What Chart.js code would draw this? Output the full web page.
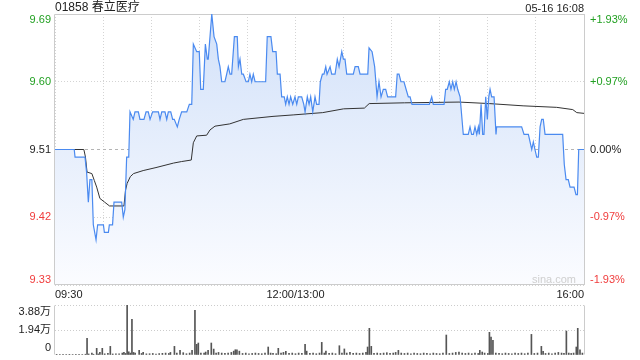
<!DOCTYPE html>
<html lang="zh">

<head>
    <meta charset="UTF-8">
    <meta name="viewport" content="width=device-width, initial-scale=1.0">
    <script src="https://cdn.jsdelivr.net/npm/chart.js"></script>
    <title>01858 春立医疗</title>
    <style>
        body {
            margin: 0;
            background: #fff;
            font-family: 'Liberation Sans', Arial, 'Noto Sans CJK SC', sans-serif;
        }

        .wrap {
            position: relative;
            width: 640px;
            height: 360px;
            overflow: hidden;
        }

        .title {
            position: absolute;
            left: 55px;
            top: 0;
            font-size: 12px;
            line-height: 15px;
            color: #222;
        }

        .date {
            position: absolute;
            right: 56px;
            top: 1px;
            font-size: 11px;
            line-height: 14px;
            color: #222;
        }

        .mark {
            position: absolute;
            right: 64px;
            top: 273px;
            font-size: 11px;
            line-height: 13px;
            color: #cfcfcf;
        }

        #priceBox {
            position: absolute;
            left: 0;
            top: 0;
            width: 640px;
            height: 300px;
        }

        #volBox {
            position: absolute;
            left: 0;
            top: 300px;
            width: 640px;
            height: 60px;
        }
    </style>
</head>

<body>
    <div class="wrap">
        <div id="priceBox"><canvas id="priceChart"></canvas></div>
        <div id="volBox"><canvas id="volChart"></canvas></div>
        <div class="title">01858 春立医疗</div>
        <div class="date">05-16 16:08</div>
        <div class="mark">sina.com</div>
    </div>
</body>

</html>
<script>
    // time axis = trading minutes since 09:30 (lunch break removed, 330 in total)
    const gridMinutes = [0, 30, 60, 90, 120, 150, 180, 210, 240, 270, 300, 330];
    const timeTicks = [0, 150, 330];
    const timeLabels = ['09:30', '12:00/13:00', '16:00'];

    const prevClose = 9.51;
    const priceTicks = [9.33, 9.42, 9.51, 9.60, 9.69];
    const priceLabels = ['9.33', '9.42', '9.51', '9.60', '9.69'];
    const pctLabels = ['-1.93%', '-0.97%', '0.00%', '+0.97%', '+1.93%'];

    const volTicks = [0, 19400, 38800];
    const volLabels = ['0', '1.94万', '3.88万'];

    // price line
    const priceTimes = [
        0, 12, 12.5, 18.7, 19.7, 20.8, 21.8, 23, 23.9, 25.6,
        26.6, 30.2, 30.8, 33.3, 33.9, 35.9, 36.8, 41.6, 42.6, 43.6,
        44.7, 46, 46.8, 48.8, 49.9, 52, 53, 55.5, 56.8, 58.2,
        59.3, 60.9, 64.5, 65.5, 66.6, 68.6, 69.7, 70.7, 72.2, 73.4,
        74.4, 76.3, 77.5, 79, 82.2, 83.8, 85.3, 86.3, 88.4, 90,
        90.9, 92.5, 93.8, 95, 95.6, 97.8, 99.2, 100.9, 101.9, 102.9,
        104, 106, 107.1, 108.1, 109.2, 110.2, 111.9, 113.7, 114.4, 115.4,
        116.5, 117.5, 119.2, 120.6, 121.6, 122.7, 123.7, 124.8, 131.4, 132.4,
        134.7, 135.8, 137.9, 138.7, 140.4, 141.4, 143, 143.9, 144.9, 146,
        147, 148.3, 149.7, 150.8, 151.8, 153.9, 155.2, 156, 157.4, 158.5,
        159.5, 160.8, 162.2, 163.2, 164.7, 165.5, 166.8, 167.8, 168.9, 169.7,
        171.6, 172.6, 174.7, 176.1, 177.2, 178.9, 179.9, 180.9, 182, 186.1,
        187.2, 189.2, 190.3, 195.1, 195.9, 197.8, 199.4, 200.9, 202.1, 203.4,
        204.8, 206.3, 207.5, 212.5, 213.5, 214.6, 215.8, 217.7, 219, 220.4,
        221.5, 222.7, 233.5, 235, 236, 242.7, 243.7, 244.7, 246, 247,
        248.1, 249.1, 250.2, 251.2, 252.7, 254.7, 257.8, 258.9, 259.9, 261,
        262, 263.1, 264.1, 264.7, 265.8, 266.8, 267.6, 268.7, 269.7, 270.6,
        271.4, 272.4, 273.9, 275.1, 275.5, 291.1, 292.6, 295.3, 297.4, 298.4,
        299.4, 300.5, 301.5, 302.6, 303.6, 304.6, 305.7, 316.7, 317.7, 318.8,
        320.2, 321.3, 323.8, 325, 325.9, 326.7, 330
    ];
    const priceValues = [
        9.51, 9.51, 9.50, 9.50, 9.48, 9.44, 9.47, 9.47, 9.41, 9.39,
        9.41, 9.41, 9.40, 9.40, 9.41, 9.41, 9.44, 9.44, 9.42, 9.43,
        9.50, 9.50, 9.56, 9.55, 9.56, 9.56, 9.55, 9.55, 9.56, 9.56,
        9.55, 9.56, 9.56, 9.55, 9.56, 9.56, 9.55, 9.56, 9.56, 9.55,
        9.55, 9.54, 9.55, 9.56, 9.56, 9.57, 9.57, 9.65, 9.64, 9.64,
        9.59, 9.59, 9.65, 9.63, 9.63, 9.69, 9.66, 9.65, 9.63, 9.62,
        9.60, 9.60, 9.61, 9.62, 9.61, 9.61, 9.66, 9.66, 9.62, 9.63,
        9.61, 9.61, 9.60, 9.60, 9.61, 9.60, 9.61, 9.60, 9.60, 9.66,
        9.66, 9.64, 9.64, 9.61, 9.61, 9.58, 9.58, 9.57, 9.58, 9.57,
        9.58, 9.57, 9.58, 9.57, 9.58, 9.58, 9.57, 9.56, 9.58, 9.57,
        9.58, 9.56, 9.58, 9.57, 9.57, 9.60, 9.61, 9.61, 9.62, 9.61,
        9.62, 9.61, 9.61, 9.63, 9.62, 9.64, 9.63, 9.63, 9.61, 9.61,
        9.62, 9.62, 9.61, 9.61, 9.645, 9.64, 9.62, 9.58, 9.60, 9.58,
        9.59, 9.59, 9.58, 9.58, 9.61, 9.61, 9.60, 9.60, 9.59, 9.58,
        9.58, 9.57, 9.57, 9.58, 9.57, 9.57, 9.59, 9.59, 9.60, 9.59,
        9.60, 9.59, 9.60, 9.59, 9.58, 9.53, 9.53, 9.54, 9.53, 9.53,
        9.54, 9.53, 9.54, 9.53, 9.57, 9.53, 9.53, 9.58, 9.55, 9.58,
        9.59, 9.58, 9.58, 9.53, 9.54, 9.54, 9.53, 9.53, 9.51, 9.52,
        9.51, 9.50, 9.50, 9.54, 9.55, 9.55, 9.53, 9.53, 9.49, 9.47,
        9.47, 9.46, 9.46, 9.45, 9.45, 9.51, 9.51
    ];

    // average price line
    const avgTimes = [
        0, 18, 19, 20, 23, 24.5, 26, 28, 31, 34,
        43, 44, 45, 47, 49, 55, 63, 74, 79, 85,
        86.3, 88.4, 94.6, 96.7, 99.8, 109, 117.5, 136, 149, 167,
        180, 193, 196, 218, 252, 271, 292, 313, 323, 325.5,
        330
    ];
    const avgValues = [
        9.51, 9.51, 9.50, 9.48, 9.478, 9.469, 9.46, 9.445, 9.44, 9.435,
        9.435, 9.456, 9.465, 9.474, 9.478, 9.482, 9.486, 9.492, 9.494, 9.496,
        9.519, 9.528, 9.529, 9.536, 9.541, 9.544, 9.55, 9.554, 9.556, 9.559,
        9.564, 9.565, 9.571, 9.572, 9.573, 9.571, 9.568, 9.566, 9.563, 9.559,
        9.558
    ];

    // volume bars
    const volTimes = [
        1, 3, 5, 7, 9, 11, 13, 15, 17, 19,
        20, 21, 23, 24, 26, 27, 28, 29.5, 31, 33,
        34.5, 36, 38, 40, 42, 43, 44, 45, 46, 47,
        48, 49, 50, 52.5, 54, 55, 57, 59, 61, 63,
        65, 67, 69, 71, 72, 74.5, 76, 78, 80, 82,
        84, 85.5, 87.3, 88.4, 89.4, 91, 93, 94, 95.5, 97.5,
        99, 100.5, 102, 104, 106, 108, 110, 111.5, 112.5, 113.5,
        115, 117, 119, 121, 123, 125, 127, 129, 131, 133,
        134.5, 136, 138, 139.3, 141, 142.5, 144, 146, 148, 150,
        152, 154, 156, 157, 159, 161, 163, 165, 166.4, 168,
        169, 171, 173, 175, 177.4, 179, 180.5, 182, 184, 186,
        188, 190, 192, 194, 195, 196.1, 197.3, 199, 201, 203,
        205, 207, 209, 211, 212.5, 214.2, 216, 218, 220, 222,
        224, 226, 228, 230, 232, 234, 236, 238, 240, 242,
        244.1, 246, 248, 250, 252, 254, 256, 258, 260, 262,
        264, 265, 266.5, 268, 270, 271, 272, 273.2, 275, 277,
        279, 281, 283, 285, 287, 289, 291, 293, 295, 297.2,
        299, 301, 303.4, 304.5, 306, 308, 310, 312, 314, 316,
        317.5, 319, 320.5, 322, 323.5, 325.2, 326.1, 327.5, 329
    ];
    const volValues = [
        500, 400, 500, 400, 500, 400, 600, 500, 400, 600,
        12900, 800, 1500, 600, 5200, 800, 2000, 5200, 900, 1200,
        6700, 800, 1000, 900, 1500, 2000, 1200, 38500, 2500, 1500,
        27700, 2000, 1500, 3600, 1200, 2000, 900, 1000, 1200, 800,
        1100, 1300, 1500, 1200, 2000, 6700, 1500, 3600, 1800, 1000,
        1500, 3600, 34700, 8300, 9300, 1500, 1500, 2300, 3600, 9300,
        4600, 1500, 2000, 1500, 1200, 1500, 2000, 3000, 4100, 4100,
        3000, 1200, 1500, 1000, 1200, 1500, 1200, 1000, 1500, 6200,
        1500, 1200, 1000, 5200, 1500, 2000, 2800, 1200, 1500, 1000,
        1500, 1200, 8300, 3000, 1200, 1500, 1000, 1500, 9800, 1500,
        3000, 1200, 1500, 1000, 7200, 1500, 4700, 1500, 2000, 1200,
        1500, 1200, 1500, 2000, 6200, 20700, 6700, 1200, 1500, 1200,
        1500, 1800, 1200, 1500, 2000, 3600, 1500, 1200, 1500, 1000,
        1500, 1200, 1000, 1500, 1200, 1000, 1500, 1200, 1000, 1500,
        15500, 1200, 1500, 2000, 2300, 1500, 1200, 1500, 1000, 1500,
        1200, 3600, 2300, 1500, 1200, 17600, 14000, 11400, 1500, 1200,
        1000, 1500, 1200, 1000, 1500, 1200, 1500, 1000, 1500, 16000,
        1200, 1500, 6700, 2800, 1200, 1500, 1000, 1500, 2000, 1500,
        1200, 18600, 1500, 1200, 1500, 6200, 20700, 4100, 1500
    ];

    Chart.defaults.font.family = "'Liberation Sans', Arial, 'Noto Sans CJK SC', sans-serif";
    Chart.defaults.font.size = 11;
    Chart.defaults.color = '#222';

    const corSobe = '#22a022';
    const corDesce = '#f03c3c';
    const corNeutra = '#222';

    function tickColor(value) {
        if (value > prevClose + 0.001) return corSobe;
        if (value < prevClose - 0.001) return corDesce;
        return corNeutra;
    }

    // first label pushed down, last pushed up, so both stay inside the box
    function edgeLabel(list, i) {
        if (i === 0) return [list[i], ''];
        if (i === list.length - 1) return ['', list[i]];
        return list[i];
    }

    // fixed axis width, and no extra room reserved for the two-line labels
    function fixWidth(w) {
        return function (axis) {
            axis.width = w;
            axis.paddingTop = 0;
            axis.paddingBottom = 0;
        };
    }

    // solid grey frame around the plot area
    const framePlugin = {
        id: 'frame',
        beforeDatasetsDraw(chart, args, opts) {
            const a = chart.chartArea;
            const ctx = chart.ctx;
            const l = Math.round(a.left) - 0.5;
            const r = Math.round(a.right) + 0.5;
            const t = Math.round(a.top) + 0.5;
            const b = Math.round(a.bottom) - 0.5;
            ctx.save();
            ctx.strokeStyle = '#cccccc';
            ctx.lineWidth = 1;
            ctx.beginPath();
            if (opts.top) { ctx.moveTo(l, t); ctx.lineTo(r, t); }
            if (opts.bottom) { ctx.moveTo(l, b); ctx.lineTo(r, b); }
            ctx.moveTo(l, t); ctx.lineTo(l, b);
            ctx.moveTo(r, t); ctx.lineTo(r, b);
            ctx.stroke();
            ctx.restore();
        }
    };

    const pricePoints = priceTimes.map((t, i) => ({ x: t, y: priceValues[i] }));
    const avgPoints = avgTimes.map((t, i) => ({ x: t, y: avgValues[i] }));

    new Chart(document.getElementById('priceChart'), {
        type: 'line',
        data: {
            datasets: [{
                label: '价格',
                data: pricePoints,
                borderColor: '#4a8af0',
                borderWidth: 1.2,
                pointRadius: 0,
                tension: 0,
                fill: 'start',
                backgroundColor: function (context) {
                    const area = context.chart.chartArea;
                    if (!area) return 'rgba(0,0,0,0)';
                    const g = context.chart.ctx.createLinearGradient(0, area.top, 0, area.bottom);
                    g.addColorStop(0, '#d2e1f9');
                    g.addColorStop(1, '#fbfcff');
                    return g;
                },
                order: 1
            },
            {
                label: '均价',
                data: avgPoints,
                borderColor: '#333',
                borderWidth: 1,
                pointRadius: 0,
                tension: 0,
                fill: false,
                order: 2
            }]
        },
        options: {
            animation: false,
            responsive: true,
            maintainAspectRatio: false,
            layout: { padding: { top: 14, left: 0, right: 0, bottom: 0 } },
            plugins: {
                legend: { display: false },
                tooltip: { enabled: false },
                filler: { drawTime: 'beforeDatasetsDraw' },
                frame: { top: true, bottom: true }
            },
            scales: {
                x: {
                    type: 'linear',
                    min: 0,
                    max: 330,
                    afterBuildTicks: axis => { axis.ticks = gridMinutes.map(v => ({ value: v })) },
                    afterFit: axis => { axis.height = 15 },
                    grid: { color: '#d4d4d4', drawTicks: false },
                    border: { display: false, dash: [1, 2] },
                    ticks: {
                        autoSkip: false,
                        maxRotation: 0,
                        align: 'inner',
                        padding: 3,
                        color: '#222',
                        callback: function (value) {
                            const i = timeTicks.indexOf(value);
                            return i >= 0 ? timeLabels[i] : '';
                        }
                    }
                },
                y: {
                    position: 'left',
                    min: 9.33,
                    max: 9.69,
                    afterBuildTicks: axis => { axis.ticks = priceTicks.map(v => ({ value: v })) },
                    afterFit: fixWidth(55),
                    grid: {
                        color: ctx => Math.abs(ctx.tick.value - prevClose) < 0.001 ? 'rgba(0,0,0,0)' : '#d4d4d4',
                        drawTicks: false
                    },
                    border: { display: false, dash: [1, 2] },
                    ticks: {
                        autoSkip: false,
                        padding: 4,
                        font: { lineHeight: 1 },
                        color: ctx => tickColor(ctx.tick.value),
                        callback: (value, i) => edgeLabel(priceLabels, i)
                    }
                },
                yBase: {
                    position: 'left',
                    min: 9.33,
                    max: 9.69,
                    afterBuildTicks: axis => { axis.ticks = [{ value: prevClose }] },
                    afterFit: fixWidth(0),
                    grid: { color: '#b4b4b4', drawTicks: false },
                    border: { display: false, dash: [3, 3] },
                    ticks: { display: false }
                },
                y2: {
                    position: 'right',
                    min: 9.33,
                    max: 9.69,
                    afterBuildTicks: axis => { axis.ticks = priceTicks.map(v => ({ value: v })) },
                    afterFit: fixWidth(56),
                    grid: { display: false, drawTicks: false },
                    border: { display: false },
                    ticks: {
                        autoSkip: false,
                        padding: 6,
                        font: { lineHeight: 1 },
                        color: ctx => tickColor(ctx.tick.value),
                        callback: (value, i) => edgeLabel(pctLabels, i)
                    }
                }
            }
        },
        plugins: [framePlugin]
    });

    const volPoints = volTimes.map((t, i) => ({ x: t, y: volValues[i] }));

    new Chart(document.getElementById('volChart'), {
        type: 'bar',
        data: {
            datasets: [{
                label: '成交量',
                data: volPoints,
                backgroundColor: '#555',
                barThickness: 1
            }]
        },
        options: {
            animation: false,
            responsive: true,
            maintainAspectRatio: false,
            layout: { padding: { top: 5, bottom: 5, left: 0, right: 56 } },
            plugins: {
                legend: { display: false },
                tooltip: { enabled: false },
                frame: { top: false, bottom: false }
            },
            scales: {
                x: {
                    type: 'linear',
                    min: 0,
                    max: 330,
                    offset: false,
                    display: false
                },
                y: {
                    min: 0,
                    max: 38800,
                    afterBuildTicks: axis => { axis.ticks = volTicks.map(v => ({ value: v })) },
                    afterFit: fixWidth(55),
                    grid: {
                        color: ctx => ctx.tick.value === 0 ? 'rgba(0,0,0,0)' : '#cccccc',
                        drawTicks: false
                    },
                    border: { display: false, dash: [1, 2] },
                    ticks: {
                        autoSkip: false,
                        padding: 4,
                        font: { lineHeight: 1.3 },
                        color: '#222',
                        callback: (value, i) => edgeLabel(volLabels, i)
                    }
                }
            }
        },
        plugins: [framePlugin]
    });
</script>
